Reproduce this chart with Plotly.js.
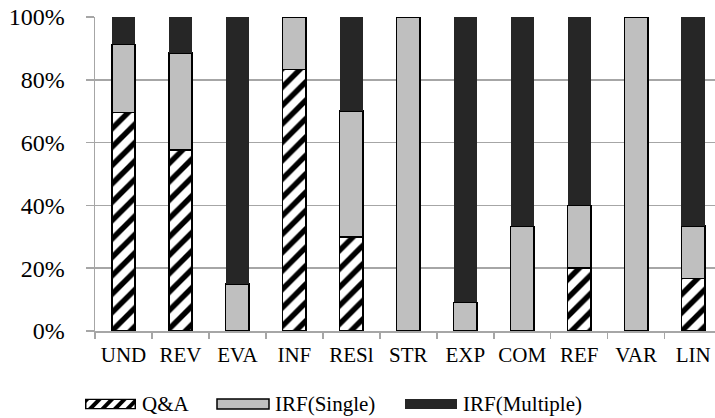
<!DOCTYPE html>
<html>
<head>
<meta charset="utf-8">
<script src="https://cdn.plot.ly/plotly-3.0.1.min.js"></script>
<style>html,body{margin:0;padding:0;background:#fff;}#chart{width:715px;height:418px;}
#chart text{font-family:'Liberation Serif','Times New Roman',serif !important;}</style>
</head>
<body>
<div id="chart"></div>
<script>
// ---- data ----
const categories = ['UND','REV','EVA','INF','RESl','STR','EXP','COM','REF','VAR','LIN'];
const qa       = [69.6, 57.7, 0,    83.3, 30, 0,   0,    0,    20, 0,   16.7];
const single   = [21.7, 30.8, 15,   16.7, 40, 100, 9.1,  33.3, 20, 100, 16.7];
const multiple = [8.7,  11.5, 85,   0,    30, 0,   90.9, 66.7, 60, 0,   66.6];
const seriesNames = ['Q&A', 'IRF(Single)', 'IRF(Multiple)'];
const yTicks = [0, 20, 40, 60, 80, 100];

const FONT = 'Times New Roman';
const GRID = '#a6a6a6';
const GRAY = '#bfbfbf';
const DARK = '#262626';

const W = 715, H = 418, ML = 95, MR = 0, MT = 17, MB = 87;
const pw = W - ML - MR, ph = H - MT - MB;
const px = x => (x - ML) / pw;
const py = y => (H - MB - y) / ph;

const traces = [
  {type:'bar', name:seriesNames[0], x:categories, y:qa,
   marker:{color:'white', line:{color:'black', width:1.5},
           pattern:{shape:'/', bgcolor:'white', fgcolor:'black', size:13, solidity:0.42}}},
  {type:'bar', name:seriesNames[1], x:categories, y:single,
   marker:{color:GRAY, line:{color:'black', width:1.5}}},
  {type:'bar', name:seriesNames[2], x:categories, y:multiple,
   marker:{color:DARK, line:{color:DARK, width:0}}}
];

// custom legend
const hatchSvg = "<svg xmlns='http://www.w3.org/2000/svg' width='52' height='11' viewBox='0 0 52 11'>" +
  "<defs><pattern id='h' width='9' height='9' patternUnits='userSpaceOnUse' patternTransform='rotate(45)'>" +
  "<rect width='4' height='9' fill='black'/></pattern></defs>" +
  "<rect x='0.75' y='0.75' width='50.5' height='9.5' fill='white'/>" +
  "<rect x='0.75' y='0.75' width='50.5' height='9.5' fill='url(#h)' stroke='black' stroke-width='1.5'/></svg>";

const legY = 404;
const items = [
  {x0:85,  x1:136, tx:140, text:seriesNames[0]},
  {x0:217, x1:269, tx:273, text:seriesNames[1]},
  {x0:405, x1:457, tx:461, text:seriesNames[2]}
];

const shapes = [
  {type:'rect', xref:'paper', yref:'paper', x0:px(items[1].x0), x1:px(items[1].x1),
   y0:py(legY+5), y1:py(legY-5), fillcolor:GRAY, line:{color:'black', width:1.5}},
  {type:'rect', xref:'paper', yref:'paper', x0:px(items[2].x0), x1:px(items[2].x1),
   y0:py(legY+5), y1:py(legY-5), fillcolor:DARK, line:{color:DARK, width:0}}
];

const annotations = items.map(it => ({
  xref:'paper', yref:'paper', x:px(it.tx), y:py(legY), xanchor:'left', yanchor:'middle',
  text:it.text, showarrow:false, font:{family:FONT, size:21, color:'black'}
}));

const images = [{
  source:'data:image/svg+xml;charset=utf-8,' + encodeURIComponent(hatchSvg),
  xref:'paper', yref:'paper', x:px(items[0].x0), y:py(legY-5.5),
  sizex:px(items[0].x1) - px(items[0].x0), sizey:11/ph,
  xanchor:'left', yanchor:'top', sizing:'stretch', layer:'above'
}];

const layout = {
  width:W, height:H,
  margin:{l:ML, r:MR, t:MT, b:MB, pad:0},
  paper_bgcolor:'white', plot_bgcolor:'white',
  barmode:'stack', bargap:0.59,
  showlegend:false,
  font:{family:FONT, color:'black'},
  xaxis:{type:'category', range:[-0.5, 10.384], tickson:'boundaries', tickangle:0,
         showgrid:false, showline:true, linecolor:GRID, linewidth:1.5,
         ticks:'outside', ticklen:6, tickcolor:GRID, tickwidth:1.5,
         tickfont:{family:FONT, size:21, color:'black'}, ticklabelstandoff:4},
  yaxis:{range:[0,100], tickvals:yTicks, ticktext:yTicks.map(v => v + '%'),
         showgrid:true, gridcolor:GRID, gridwidth:1.5, zeroline:false,
         showline:true, linecolor:GRID, linewidth:1.5,
         ticks:'outside', ticklen:8, tickcolor:GRID, tickwidth:1.5,
         tickfont:{family:FONT, size:24, color:'black'}, ticklabelstandoff:16},
  shapes:shapes, annotations:annotations, images:images
};

Plotly.newPlot('chart', traces, layout, {displayModeBar:false, staticPlot:true});
</script>
</body>
</html>
